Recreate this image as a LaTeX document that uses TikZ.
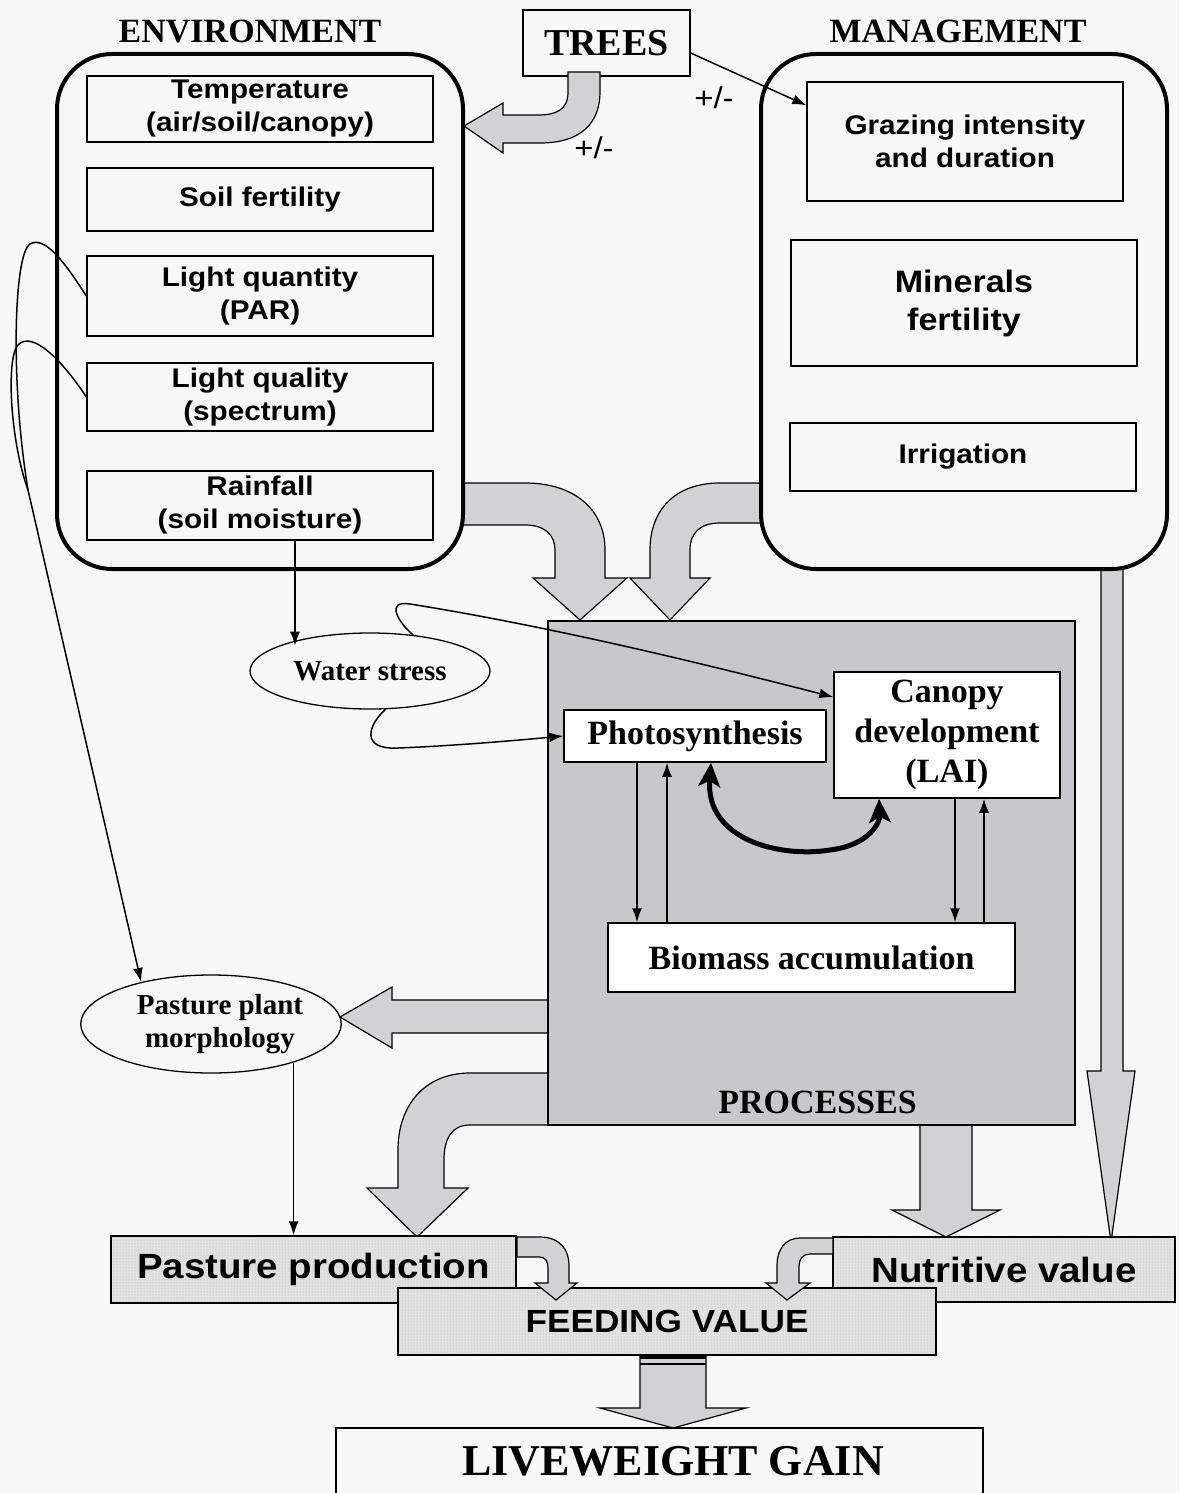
\documentclass[tikz,border=0pt]{standalone}
\usepackage{fontspec}
\setmainfont{Liberation Serif}
\newfontfamily\hsans[FakeStretch=1.1]{Liberation Sans}
\usetikzlibrary{arrows.meta,patterns,shapes.geometric}
\definecolor{bg}{RGB}{246,247,246}
\definecolor{procgray}{RGB}{200,200,202}
\definecolor{arrgray}{RGB}{210,210,212}
\definecolor{stipbg}{RGB}{226,226,226}
\tikzset{
 ibox/.style={draw, line width=1.3pt, fill=bg, inner sep=0pt, align=center, font=\hsans\bfseries\fontsize{27}{33}\selectfont},
 pbox/.style={draw, line width=1.5pt, fill=white, inner sep=0pt, align=center, font=\bfseries\fontsize{34}{40}\selectfont},
 ell/.style={ellipse, draw, line width=1.3pt, fill=bg, inner sep=0pt, align=center, font=\bfseries\fontsize{29}{33}\selectfont},
 stip/.style={draw, line width=1.5pt, preaction={fill=stipbg}, pattern=dots, pattern color=black!30, inner sep=0pt, font=\hsans\bfseries\fontsize{35}{38}\selectfont},
 fatarr/.style={draw, line width=1.2pt, fill=arrgray, line join=miter},
 thinarr/.style={line width=1.5pt, -{Latex[length=14pt,width=10pt]}},
 thinline/.style={line width=1.5pt},
 title/.style={font=\bfseries\fontsize{34}{40}\selectfont},
 rbox/.style={draw, line width=4pt, rounded corners=55pt, fill=bg, inner sep=0pt},
 pm/.style={font=\hsans\fontsize{30}{34}\selectfont},
}
\begin{document}
\begin{tikzpicture}[x=1pt,y=-1pt]
\path[use as bounding box, fill=bg] (0,0) rectangle (1179,1493);

% fat arrows leaving the processes box (drawn below it)
\draw[fatarr] (560,1000) -- (392,1000) -- (392,987) -- (340,1017) -- (392,1048) -- (392,1033) -- (560,1033) -- cycle;
\draw[fatarr] (560,1073) -- (470,1073) .. controls (425,1073) and (398,1105) .. (398,1150) -- (398,1188) -- (367,1188) -- (417,1237) -- (468,1188) -- (444,1188) -- (444,1160) .. controls (444,1138) and (452,1125) .. (470,1125) -- (560,1125) -- cycle;
\draw[fatarr] (920,1110) -- (920,1210) -- (892,1210) -- (946,1237) -- (1000,1210) -- (972,1210) -- (972,1110) -- cycle;

% processes
\node[draw, line width=1.8pt, fill=procgray, minimum width=527pt, minimum height=504pt, inner sep=0pt] (proc) at (811.5,873) {};
\node[title] (proclab) at (817.5,1102) {PROCESSES};
\node[pbox, minimum width=262pt, minimum height=52pt] (photo) at (695,736) {Photosynthesis};
\node[pbox, minimum width=226pt, minimum height=126pt] (canopy) at (947,735) {Canopy\\development\\(LAI)};
\node[pbox, minimum width=407pt, minimum height=69pt] (bio) at (811.5,957.5) {Biomass accumulation};

% fat arrows into processes and to nutritive value
\draw[fatarr] (450,483) -- (525,483) .. controls (575,483) and (605,510) .. (605,550) -- (605,578) -- (627,578) -- (580,620) -- (533,578) -- (555,578) -- (555,550) .. controls (555,535) and (545,525) .. (525,525) -- (450,525) -- cycle;
\draw[fatarr] (775,483) -- (720,483) .. controls (675,483) and (650,510) .. (650,550) -- (650,578) -- (630,578) -- (670,620) -- (710,578) -- (690,578) -- (690,550) .. controls (690,533) and (700,523) .. (720,523) -- (775,523) -- cycle;
\draw[fatarr] (1101,560) -- (1101,1071) -- (1087,1071) -- (1111,1242) -- (1135,1071) -- (1123,1071) -- (1123,560) -- cycle;

% environment
\node[title] (envlab) at (250,31.5) {ENVIRONMENT};
\node[rbox, minimum width=406pt, minimum height=515pt] (env) at (260,311.5) {};
\node[ibox, minimum width=346pt, minimum height=66pt] (temp) at (260,109) {Temperature\\(air/soil/canopy)};
\node[ibox, minimum width=346pt, minimum height=63pt] (soil) at (260,199.5) {Soil fertility};
\node[ibox, minimum width=346pt, minimum height=80pt] (lq) at (260,296) {Light quantity\\(PAR)};
\node[ibox, minimum width=346pt, minimum height=68pt] (lqual) at (260,397) {Light quality\\(spectrum)};
\node[ibox, minimum width=346pt, minimum height=69pt] (rain) at (260,505.5) {Rainfall\\(soil moisture)};

% management
\node[title] (mglab) at (958,31.5) {MANAGEMENT};
\node[rbox, minimum width=406pt, minimum height=515pt] (mgmt) at (964,311.5) {};
\node[ibox, minimum width=316pt, minimum height=119pt] (graz) at (965,141.5) {Grazing intensity\\and duration};
\node[ibox, minimum width=346pt, minimum height=126pt, font=\hsans\bfseries\fontsize{31}{38}\selectfont] (minf) at (964,303) {Minerals\\fertility};
\node[ibox, minimum width=346pt, minimum height=68pt] (irr) at (963,457) {Irrigation};

% trees
\node[draw, line width=1.3pt, fill=bg, minimum width=167pt, minimum height=66pt, inner sep=0pt, font=\bfseries\fontsize{38}{44}\selectfont] (trees) at (606.5,43) {TREES};
\draw[fatarr] (568,72) -- (568,92) .. controls (568,110) and (556,115) .. (538,115) -- (503,115) -- (503,103) -- (464,126) -- (503,153) -- (503,143) -- (540,143) .. controls (582,143) and (600,122) .. (600,92) -- (600,72) -- cycle;
\node[pm] (pm1) at (594,148) {+/-};
\node[pm] (pm2) at (714,98) {+/-};
\draw[thinarr] ([yshift=-10pt]trees.east) -- ([yshift=-24pt]graz.north west);

% water stress
\node[ell, minimum width=240pt, minimum height=76pt] (ws) at (370,671) {Water stress};
\draw[thinarr] ([xshift=35pt]rain.south) -- ++(0,105);
\draw[thinarr] (ws.40) .. controls (398,622) and (385,600) .. (410,604) .. controls (560,628) and (720,668) .. ([yshift=38pt]canopy.west);
\draw[thinarr] (ws.-68) .. controls (368,725) and (360,750) .. (398,748) .. controls (450,746) and (510,741) .. (photo.west);

% processes internal arrows
\draw[thinarr] ([xshift=-58pt]photo.south) -- ([xshift=-58pt]photo.south |- bio.north);
\draw[thinarr] ([xshift=-28pt]photo.south |- bio.north) -- ([xshift=-28pt]photo.south);
\draw[thinarr] ([xshift=8pt]canopy.south) -- ([xshift=8pt]canopy.south |- bio.north);
\draw[thinarr] ([xshift=37pt]canopy.south |- bio.north) -- ([xshift=37pt]canopy.south);
\draw[line width=5pt, {Stealth[length=24pt,width=22pt,inset=6pt]}-{Stealth[length=24pt,width=22pt,inset=6pt]}] ([xshift=16pt]photo.south) .. controls (705,840) and (780,858) .. (830,850) .. controls (870,845) and (880,822) .. ([xshift=-68pt]canopy.south);

% pasture plant morphology
\node[ell, minimum width=256pt, minimum height=98pt] (morph) at (211,1024) {\hspace*{18pt}Pasture plant\\\hspace*{18pt}morphology};
\coordinate (merge) at (28,490);
\draw[thinline] (lq.west) .. controls (62,258) and (44,236) .. (30,244) .. controls (14,254) and (10,380) .. (merge);
\draw[thinline] (lqual.west) .. controls (62,360) and (32,330) .. (18,345) .. controls (6,358) and (10,440) .. (merge);
\draw[thinarr] (merge) -- (morph.149);

% bottom boxes
\node[stip, minimum width=405pt, minimum height=67pt] (past) at (313.5,1269.5) {Pasture production};
\node[stip, minimum width=342pt, minimum height=65pt] (nutr) at (1004,1269.5) {Nutritive value};
\draw[thinarr] (morph.-25.4) -- (morph.-25.4 |- past.north);
\node[stip, minimum width=538pt, minimum height=67pt, font=\hsans\bfseries\fontsize{32}{36}\selectfont] (feed) at (667,1321.5) {FEEDING VALUE};
\draw[fatarr] (517,1237) -- (540,1237) .. controls (560,1237) and (569,1250) .. (569,1265) -- (569,1283) -- (577,1283) -- (556,1300) -- (535,1283) -- (548,1283) -- (548,1268) .. controls (548,1261) and (545,1257) .. (540,1257) -- (517,1257) -- cycle;
\draw[fatarr] (833,1238) -- (800,1238) .. controls (785,1238) and (777,1250) .. (777,1265) -- (777,1283) -- (766,1283) -- (787,1300) -- (810,1283) -- (799,1283) -- (799,1266) .. controls (799,1259) and (803,1254) .. (810,1254) -- (833,1254) -- cycle;

% liveweight gain
\draw[fatarr] (640,1355) -- (640,1408) -- (600,1408) -- (673,1428) -- (746,1408) -- (706,1408) -- (706,1355) -- cycle;
\draw[line width=3.5pt] (640,1357) -- (706,1357);
\draw[line width=2pt] (640,1364) -- (706,1364);
\draw[line width=1.5pt] (336,1500) -- (336,1428) -- (983,1428) -- (983,1500);
\node[font=\bfseries\fontsize{44}{50}\selectfont] (lwg) at (673,1461) {LIVEWEIGHT GAIN};
\end{tikzpicture}
\end{document}
